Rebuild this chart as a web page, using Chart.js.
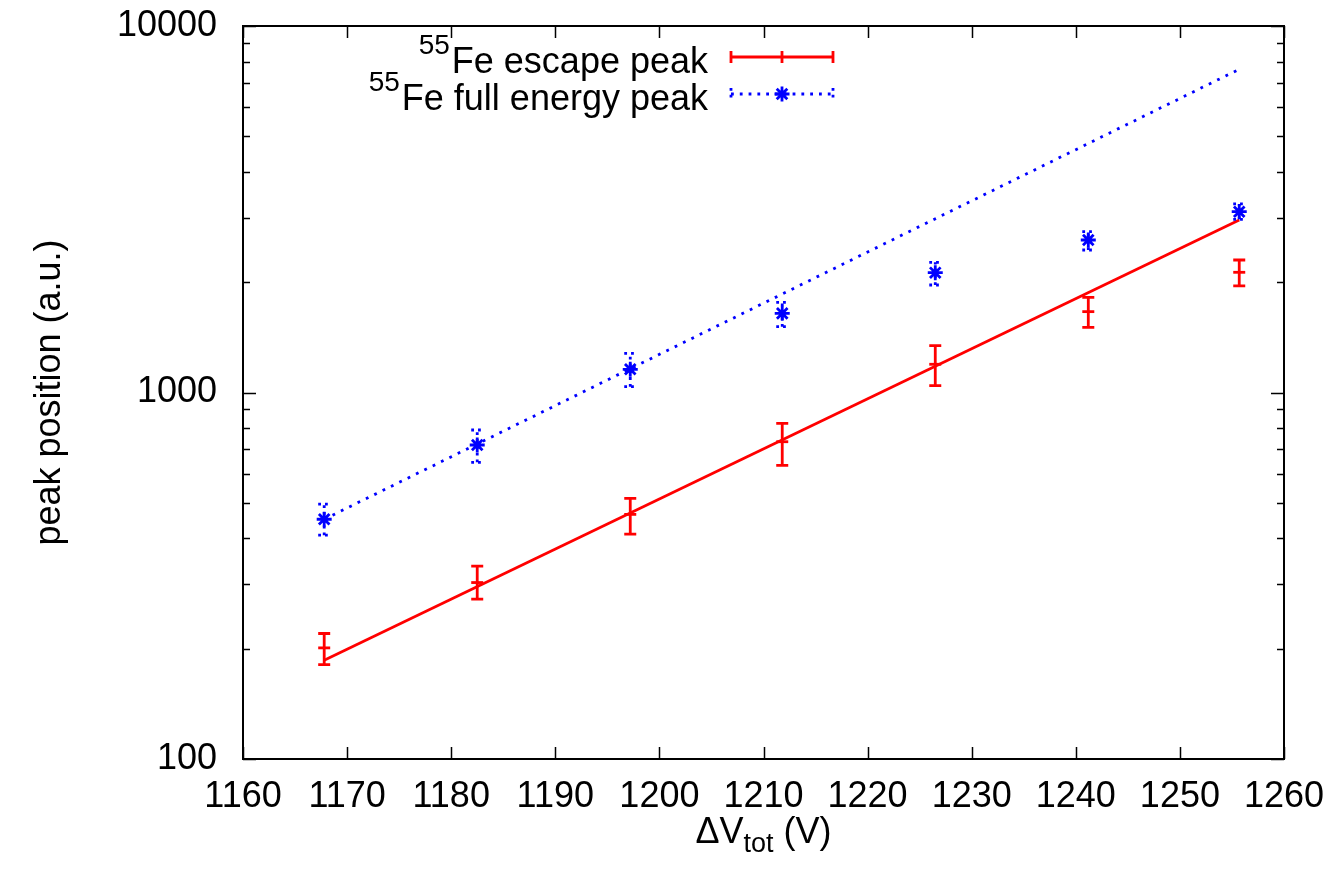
<!DOCTYPE html>
<html>
<head>
<meta charset="utf-8">
<script src="https://cdn.jsdelivr.net/npm/chart.js@4.4.0/dist/chart.umd.min.js"></script>
<style>
html,body{margin:0;padding:0;background:#fff;}
#wrap{width:1336px;height:873px;position:relative;}
</style>
</head>
<body>
<div id="wrap"><canvas id="c"></canvas></div>
<script>
// ---- data ----
const voltages      = [1167.8, 1182.5, 1197.2, 1211.8, 1226.5, 1241.2, 1255.7];
const escapePeak    = [201, 303, 465, 734, 1194, 1662, 2128];
const escapeLow     = [181, 273, 411, 633, 1044, 1506, 1953];
const escapeHigh    = [220, 336, 514, 824, 1342, 1818, 2299];
const fullPeak      = [451, 719, 1157, 1644, 2123, 2607, 3114];
const fullLow       = [408, 645, 1037, 1512, 1965, 2448, 2969];
const fullHigh      = [496, 790, 1279, 1762, 2266, 2747, 3269];
const fitVoltages   = [1167.8, 1255.7];
const escapeFit     = [186, 2957];
const fullFit       = [451, 7620];
const xTickValues   = [1160, 1170, 1180, 1190, 1200, 1210, 1220, 1230, 1240, 1250, 1260];
const yMajorValues  = [100, 1000, 10000];
const yMinorValues  = [200, 300, 400, 500, 600, 700, 800, 900, 2000, 3000, 4000, 5000, 6000, 7000, 8000, 9000];
const legendIsotope = '55';
const legendLabels  = ['Fe escape peak', 'Fe full energy peak'];
const xTitleParts   = ['\u0394V', 'tot', ' (V)'];
const yTitle        = 'peak position (a.u.)';

const FONT = '"Liberation Sans", Arial, Helvetica, sans-serif';
const RED = '#ff0000';
const BLUE = '#0000ff';
const LW = 2.8;

const pts = (xs, ys) => xs.map((v, i) => ({x: v, y: ys[i]}));

const errorBars = {
  id: 'errorBars',
  afterDatasetsDraw(chart) {
    const {ctx, scales: {x, y}} = chart;
    chart.data.datasets.forEach(ds => {
      if (!ds.errLow) return;
      ctx.save();
      ctx.strokeStyle = ds.borderColor;
      ctx.lineWidth = ds.errWidth;
      ctx.setLineDash(ds.errDash);
      ds.data.forEach((p, j) => {
        const px = x.getPixelForValue(p.x);
        const yl = y.getPixelForValue(ds.errLow[j]);
        const yh = y.getPixelForValue(ds.errHigh[j]);
        const c = ds.errCap;
        ctx.beginPath();
        ctx.moveTo(px, yl); ctx.lineTo(px, yh);
        ctx.stroke();
        ctx.beginPath();
        ctx.moveTo(px - c, yl); ctx.lineTo(px + c, yl);
        ctx.moveTo(px - c, yh); ctx.lineTo(px + c, yh);
        ctx.stroke();
      });
      ctx.restore();
    });
  }
};

const frameAndText = {
  id: 'frameAndText',
  afterDraw(chart) {
    const {ctx, chartArea: a, scales: {x, y}} = chart;
    ctx.save();
    ctx.strokeStyle = '#000';
    ctx.lineWidth = 1.5;
    ctx.beginPath();
    xTickValues.forEach(v => {
      const px = Math.round(x.getPixelForValue(v)) + 0.5;
      ctx.moveTo(px, a.bottom); ctx.lineTo(px, a.bottom - 12);
      ctx.moveTo(px, a.top); ctx.lineTo(px, a.top + 12);
    });
    yMajorValues.forEach(v => {
      const py = Math.round(y.getPixelForValue(v)) + 0.5;
      ctx.moveTo(a.left, py); ctx.lineTo(a.left + 13, py);
      ctx.moveTo(a.right, py); ctx.lineTo(a.right - 13, py);
    });
    yMinorValues.forEach(v => {
      const py = Math.round(y.getPixelForValue(v)) + 0.5;
      ctx.moveTo(a.left, py); ctx.lineTo(a.left + 7, py);
      ctx.moveTo(a.right, py); ctx.lineTo(a.right - 7, py);
    });
    ctx.stroke();
    ctx.lineWidth = 2;
    ctx.strokeRect(a.left, a.top, a.right - a.left, a.bottom - a.top);

    // legend
    ctx.fillStyle = '#000';
    const textRight = 708;
    const rows = [{base: 73, sy: 57}, {base: 110, sy: 94}];
    legendLabels.forEach((lab, i) => {
      ctx.font = '36px ' + FONT;
      ctx.textAlign = 'right';
      ctx.textBaseline = 'alphabetic';
      ctx.fillText(lab, textRight, rows[i].base);
      const w = ctx.measureText(lab).width;
      ctx.font = '28px ' + FONT;
      ctx.fillText(legendIsotope, textRight - w - 2, rows[i].base - 19);
    });
    const x0 = 731, x1 = 833, xm = 782;
    // red sample
    let sy = rows[0].sy;
    ctx.strokeStyle = RED; ctx.lineWidth = LW;
    ctx.beginPath();
    ctx.moveTo(x0, sy); ctx.lineTo(x1, sy);
    ctx.moveTo(x0, sy - 6); ctx.lineTo(x0, sy + 6);
    ctx.moveTo(x1, sy - 6); ctx.lineTo(x1, sy + 6);
    ctx.moveTo(xm, sy - 6); ctx.lineTo(xm, sy + 6);
    ctx.stroke();
    // blue sample
    sy = rows[1].sy;
    ctx.strokeStyle = BLUE; ctx.lineWidth = LW;
    ctx.setLineDash([2.8, 6]);
    ctx.beginPath();
    ctx.moveTo(x0, sy); ctx.lineTo(x1, sy);
    ctx.stroke();
    ctx.setLineDash([2.8, 4]);
    ctx.beginPath();
    ctx.moveTo(x0, sy - 6); ctx.lineTo(x0, sy + 6);
    ctx.moveTo(x1, sy - 6); ctx.lineTo(x1, sy + 6);
    ctx.stroke();
    ctx.setLineDash([]);
    ctx.beginPath();
    const r = 7.5;
    ctx.moveTo(xm - r, sy); ctx.lineTo(xm + r, sy);
    ctx.moveTo(xm, sy - r); ctx.lineTo(xm, sy + r);
    const d = r * 0.7071;
    ctx.moveTo(xm - d, sy - d); ctx.lineTo(xm + d, sy + d);
    ctx.moveTo(xm - d, sy + d); ctx.lineTo(xm + d, sy - d);
    ctx.stroke();

    // x title
    ctx.fillStyle = '#000';
    ctx.textAlign = 'left';
    ctx.font = '36px ' + FONT;
    const w1 = ctx.measureText(xTitleParts[0]).width;
    const w3 = ctx.measureText(xTitleParts[2]).width;
    ctx.font = '27px ' + FONT;
    const w2 = ctx.measureText(xTitleParts[1]).width;
    const cx = (a.left + a.right) / 2;
    let sx = cx - (w1 + w2 + w3) / 2;
    const tb = 843;
    ctx.font = '36px ' + FONT;
    ctx.fillText(xTitleParts[0], sx, tb);
    ctx.font = '27px ' + FONT;
    ctx.fillText(xTitleParts[1], sx + w1, tb + 9);
    ctx.font = '36px ' + FONT;
    ctx.fillText(xTitleParts[2], sx + w1 + w2, tb);

    // y title
    ctx.save();
    ctx.translate(60, (a.top + a.bottom) / 2);
    ctx.rotate(-Math.PI / 2);
    ctx.textAlign = 'center';
    ctx.fillText(yTitle, 0, 0);
    ctx.restore();
    ctx.restore();
  }
};

new Chart(document.getElementById('c'), {
  type: 'scatter',
  data: {
    datasets: [
      {
        label: 'escape points',
        data: pts(voltages, escapePeak),
        borderColor: RED, backgroundColor: RED,
        pointStyle: 'line', pointRadius: 6, borderWidth: LW,
        errLow: escapeLow, errHigh: escapeHigh, errCap: 6, errWidth: LW, errDash: []
      },
      {
        label: 'full points',
        data: pts(voltages, fullPeak),
        borderColor: BLUE, backgroundColor: BLUE,
        pointStyle: 'star', pointRadius: 7.5, borderWidth: LW,
        errLow: fullLow, errHigh: fullHigh, errCap: 6, errWidth: LW, errDash: [2.8, 4]
      },
      {
        label: 'escape fit',
        data: pts(fitVoltages, escapeFit),
        showLine: true, borderColor: RED, borderWidth: LW,
        pointRadius: 0
      },
      {
        label: 'full fit',
        data: pts(fitVoltages, fullFit),
        showLine: true, borderColor: BLUE, borderWidth: LW, borderDash: [2.8, 6.5],
        pointRadius: 0
      }
    ]
  },
  options: {
    responsive: true,
    maintainAspectRatio: false,
    animation: false,
    layout: {padding: {top: 26, right: 52, left: 0, bottom: 0}},
    plugins: {legend: {display: false}, tooltip: {enabled: false}},
    scales: {
      x: {
        type: 'linear', min: 1160, max: 1260,
        grid: {display: false, drawTicks: false},
        border: {display: false},
        afterBuildTicks: s => { s.ticks = xTickValues.map(v => ({value: v})); },
        afterFit: s => { s.height = 114; s.paddingLeft = 0; s.paddingRight = 0; s.paddingTop = 0; s.paddingBottom = 0; },
        ticks: {color: '#000', font: {family: FONT, size: 36}, padding: 16, maxRotation: 0, autoSkip: false,
                callback: v => String(v)}
      },
      y: {
        type: 'logarithmic', min: 100, max: 10000,
        grid: {display: false, drawTicks: false},
        border: {display: false},
        afterBuildTicks: s => { s.ticks = yMajorValues.map(v => ({value: v})); },
        afterFit: s => { s.width = 243; s.paddingTop = 0; s.paddingBottom = 0; s.paddingLeft = 0; s.paddingRight = 0; },
        ticks: {color: '#000', font: {family: FONT, size: 36}, padding: 26, autoSkip: false,
                callback: v => String(v)}
      }
    }
  },
  plugins: [errorBars, frameAndText]
});
</script>
</body>
</html>
